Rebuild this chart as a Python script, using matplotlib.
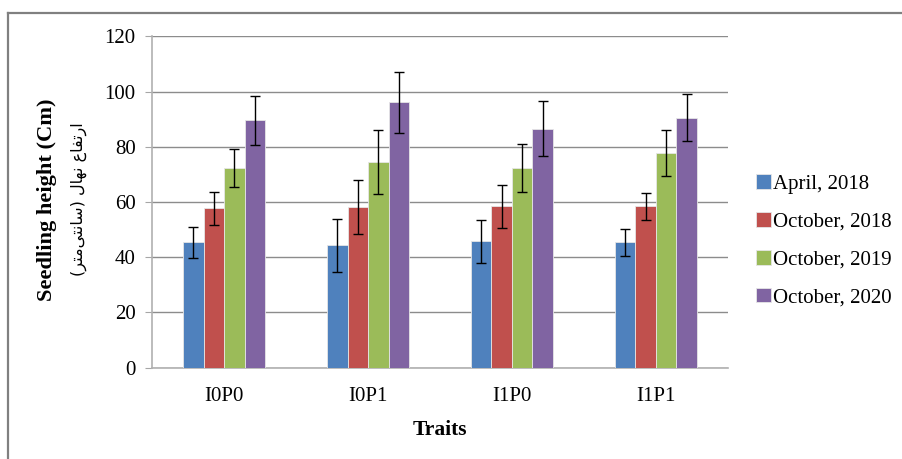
import numpy as np
import matplotlib
matplotlib.use("Agg")
import matplotlib.pyplot as plt
from matplotlib.lines import Line2D

plt.rcParams['font.family'] = ['Liberation Serif', 'DejaVu Sans']

traits = ['I0P0', 'I0P1', 'I1P0', 'I1P1']
series = ['April, 2018', 'October, 2018', 'October, 2019', 'October, 2020']
colors = ['#4F81BD', '#C0504D', '#9BBB59', '#8064A2']

april_2018 = [45.4, 44.3, 45.8, 45.4]
october_2018 = [57.7, 58.1, 58.4, 58.4]
october_2019 = [72.3, 74.5, 72.3, 77.7]
october_2020 = [89.6, 96.1, 86.5, 90.5]

april_2018_err = [5.6, 9.5, 7.8, 4.8]
october_2018_err = [6.0, 9.7, 7.8, 5.0]
october_2019_err = [6.9, 11.6, 8.8, 8.2]
october_2020_err = [8.8, 11.0, 9.9, 8.5]

values = [april_2018, october_2018, october_2019, october_2020]
errors = [april_2018_err, october_2018_err, october_2019_err, october_2020_err]

# Persian label, pre-shaped (presentation forms) in visual order
fa_label = ('(' + '\uFEAE\uFE98\uFEE3\uFBFD\uFE98\uFEE7\uFE8E\uFEB3' + ')'
            + ' ' + '\uFEDD\uFE8E\uFEEC\uFEE7'
            + ' ' + '\uFEC9\uFE8E\uFED4\uFE97\uFEAD\uFE8D')

fig = plt.figure(figsize=(9.02, 4.59), dpi=100)
ax = fig.add_axes([0.1688, 0.1989, 0.638, 0.722])

x = np.arange(len(traits))
w = 0.1425
for i, (vals, errs) in enumerate(zip(values, errors)):
    ax.bar(x + (i - 1.5) * w, vals, w, color=colors[i], edgecolor='#E6E6E6',
           linewidth=0.6, label=series[i], zorder=3,
           yerr=errs, capsize=3.6,
           error_kw=dict(ecolor='black', elinewidth=1.0, capthick=1.0, zorder=4))

ax.set_xlim(-0.5, 3.5)
ax.set_ylim(0, 120)
ax.set_yticks(range(0, 121, 20))
ax.set_xticks(x)
ax.set_xticklabels(traits, fontsize=15)
ax.tick_params(axis='y', labelsize=15, length=5, color='#A6A6A6', pad=7, direction='out')
ax.tick_params(axis='x', length=0, pad=14)
ax.grid(axis='y', color='#8C8C8C', linewidth=1.0, zorder=0)
for s in ['top', 'right']:
    ax.spines[s].set_visible(False)
ax.spines['left'].set_color('#B0B0B0')
ax.spines['bottom'].set_color('#B0B0B0')
ax.spines['left'].set_linewidth(1.2)
ax.spines['bottom'].set_linewidth(1.2)

ax.set_xlabel('Traits', fontsize=15.5, fontweight='bold', labelpad=10)

fig.text(0.052, 0.565, 'Seedling height (Cm)', rotation=90, fontsize=16.2,
         fontweight='bold', ha='center', va='center')
fig.text(0.0875, 0.565, fa_label, rotation=90, fontsize=11.5,
         family=['DejaVu Sans'], ha='center', va='center')

leg = ax.legend(loc='center left', bbox_to_anchor=(1.035, 0.383), frameon=False,
                fontsize=15, handlelength=0.7, handleheight=0.7,
                handletextpad=0.12, labelspacing=0.88, borderaxespad=0)

# outer frame (top and left edges)
fig.add_artist(Line2D([0.0089, 1.0], [0.9717, 0.9717], color='#808080', lw=1.6,
                      transform=fig.transFigure))
fig.add_artist(Line2D([0.0089, 0.0089], [0.0, 0.9717], color='#808080', lw=1.6,
                      transform=fig.transFigure))

fig.savefig('out.png', dpi=100)
